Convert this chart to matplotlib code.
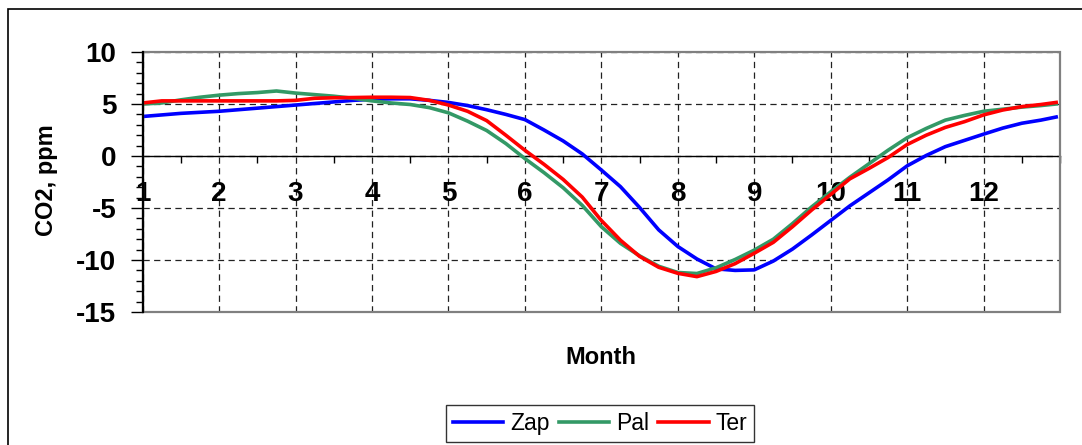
import matplotlib

matplotlib.use("Agg")
import matplotlib.pyplot as plt
from matplotlib.patches import Rectangle
from matplotlib.ticker import MultipleLocator

plt.rcParams["font.family"] = ["Liberation Sans", "DejaVu Sans"]

# Seasonal CO2 anomaly (ppm), sampled every quarter month
months = [
    1.0, 1.25, 1.5, 1.75, 2.0, 2.25, 2.5, 2.75, 3.0, 3.25, 3.5, 3.75,
    4.0, 4.25, 4.5, 4.75, 5.0, 5.25, 5.5, 5.75, 6.0, 6.25, 6.5, 6.75,
    7.0, 7.25, 7.5, 7.75, 8.0, 8.25, 8.5, 8.75, 9.0, 9.25, 9.5, 9.75,
    10.0, 10.25, 10.5, 10.75, 11.0, 11.25, 11.5, 11.75, 12.0, 12.25, 12.5, 12.75,
    12.95,
]
zap = [
    3.8, 3.95, 4.1, 4.2, 4.3, 4.45, 4.6, 4.75, 4.9, 5.05, 5.2, 5.35,
    5.45, 5.5, 5.5, 5.35, 5.15, 4.85, 4.45, 4.0, 3.5, 2.5, 1.45, 0.2,
    -1.35, -2.95, -4.95, -7.1, -8.7, -9.9, -10.85, -11.0, -10.95, -10.1, -8.95, -7.6,
    -6.2, -4.8, -3.55, -2.3, -0.95, 0.05, 0.9, 1.5, 2.1, 2.68, 3.15, 3.45,
    3.75,
]
pal = [
    5.0, 5.1, 5.4, 5.65, 5.85, 6.0, 6.1, 6.25, 6.05, 5.9, 5.75, 5.55,
    5.3, 5.1, 4.95, 4.65, 4.15, 3.35, 2.45, 1.2, -0.25, -1.6, -3.05, -4.75,
    -6.8, -8.4, -9.6, -10.6, -11.2, -11.3, -10.75, -9.95, -9.05, -8.0, -6.5, -4.9,
    -3.45, -2.05, -0.75, 0.55, 1.75, 2.65, 3.45, 3.9, 4.3, 4.5, 4.7, 4.85,
    5.0,
]
ter = [
    5.1, 5.3, 5.3, 5.3, 5.3, 5.3, 5.3, 5.3, 5.35, 5.55, 5.6, 5.62,
    5.65, 5.65, 5.62, 5.35, 4.9, 4.3, 3.4, 2.0, 0.55, -0.8, -2.25, -3.95,
    -6.2, -8.1, -9.65, -10.7, -11.28, -11.6, -11.1, -10.35, -9.35, -8.3, -6.8, -5.2,
    -3.7, -2.2, -1.2, -0.15, 1.1, 2.0, 2.75, 3.3, 3.95, 4.42, 4.75, 4.95,
    5.15,
]
series = [("Zap", zap, "#0000ff"), ("Pal", pal, "#339966"), ("Ter", ter, "#ff0000")]

month_ticks = list(range(1, 13))
co2_ticks = [-15, -10, -5, 0, 5, 10]

W, H = 1082, 445
fig = plt.figure(figsize=(W / 100, H / 100), dpi=100)

# plot area in pixel units, converted to figure fractions
left, right, top, bottom = 142.7, 1060, 52, 312
ax = fig.add_axes([left / W, 1 - bottom / H, (right - left) / W, (bottom - top) / H])

for name, values, color in series:
    ax.plot(months, values, color=color, lw=2.6, label=name, zorder=3)

ax.set_xlim(1, 13)
ax.set_ylim(-15, 10)

# x axis sits on the zero line, as in spreadsheet charts
ax.spines["bottom"].set_position(("data", 0))
ax.spines["bottom"].set_linewidth(1.0)
ax.spines["bottom"].set_color("black")
ax.spines["top"].set_visible(False)
ax.spines["right"].set_visible(False)
ax.spines["left"].set_linewidth(1.6)
ax.spines["left"].set_zorder(5)

# gray frame round the plot area
ax.add_patch(
    Rectangle((0, 0), 1, 1, transform=ax.transAxes, fill=False,
              edgecolor="#808080", lw=1.6, clip_on=False, zorder=4)
)

ax.set_xticks(month_ticks)
ax.set_xticklabels([str(m) for m in month_ticks], fontweight="bold")
ax.xaxis.set_minor_locator(MultipleLocator(0.5))
ax.tick_params(axis="x", which="major", length=0, pad=18, labelsize=20)
ax.tick_params(axis="x", which="minor", length=5, width=1, direction="out")

ax.set_yticks(co2_ticks)
ax.set_yticklabels([str(v) for v in co2_ticks], fontweight="bold")
ax.yaxis.set_minor_locator(MultipleLocator(1))
ax.tick_params(axis="y", which="major", length=9, width=1, pad=10, labelsize=20)
ax.tick_params(axis="y", which="minor", length=5, width=1)

ax.set_axisbelow(True)
ax.grid(which="major", color="#222222", linestyle=(0, (5, 3.5)), linewidth=0.9)

fig.text(601 / W, 1 - 358 / H, "Month", fontsize=17, fontweight="bold",
         ha="center", va="center")
fig.text(47 / W, 1 - 180 / H, "CO2, ppm", fontsize=17, fontweight="bold",
         rotation=90, ha="center", va="center")

leg = fig.legend(
    loc="center", bbox_to_anchor=(600 / W, 1 - 423.5 / H), ncol=3,
    fontsize=16.5, frameon=True, fancybox=False, handlelength=2.2,
    handletextpad=0.3, columnspacing=0.4, borderpad=0.3, borderaxespad=0,
)
leg.get_frame().set_edgecolor("black")
leg.get_frame().set_linewidth(1.0)

# outer chart border, running off the right and bottom edges
fig.add_artist(
    Rectangle((8 / W, -0.1), 1.2, 1 - 9 / H + 0.1, transform=fig.transFigure,
              fill=False, edgecolor="black", lw=1.2)
)

fig.savefig("out.png", dpi=100)
